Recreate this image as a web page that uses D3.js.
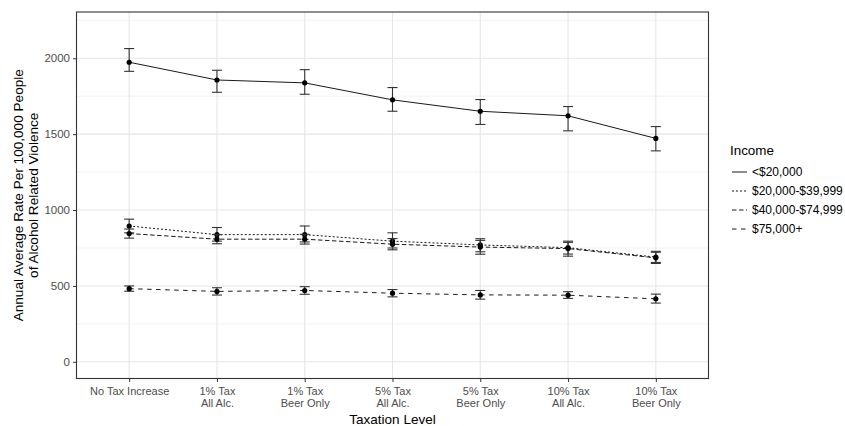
<!DOCTYPE html>
<html>
<head>
<meta charset="utf-8">
<script src="https://cdn.jsdelivr.net/npm/d3@7/dist/d3.min.js"></script>
<style>
  body { margin: 0; background: #fff; }
  svg text { font-family: "Liberation Sans", Arial, sans-serif; }
</style>
</head>
<body>
<div id="chart"></div>
<script>
// tax scenarios on the x axis
var categories = ["No Tax Increase", "1% Tax\nAll Alc.", "1% Tax\nBeer Only", "5% Tax\nAll Alc.",
                  "5% Tax\nBeer Only", "10% Tax\nAll Alc.", "10% Tax\nBeer Only"];

var incomeGroups = ["<$20,000", "$20,000-$39,999", "$40,000-$74,999", "$75,000+"];

// mean rate per 100,000 and error bar bounds, one array per income group
var meanUnder20 = [1974, 1857, 1838, 1726, 1651, 1621, 1472];
var lowUnder20  = [1914, 1776, 1763, 1651, 1564, 1522, 1390];
var highUnder20 = [2064, 1921, 1925, 1807, 1728, 1682, 1550];

var mean20to40 = [895, 838, 838, 795, 770, 752, 690];
var low20to40  = [850, 795, 790, 750, 725, 710, 655];
var high20to40 = [940, 885, 895, 850, 811, 787, 728];

var mean40to75 = [845, 808, 808, 775, 756, 746, 685];
var low40to75  = [815, 778, 776, 738, 709, 696, 648];
var high40to75 = [875, 838, 840, 812, 800, 795, 722];

var mean75plus = [482, 464, 470, 452, 441, 439, 415];
var low75plus  = [465, 440, 445, 428, 413, 418, 387];
var high75plus = [500, 488, 495, 476, 470, 462, 446];

var yTicks = [0, 500, 1000, 1500, 2000];
var yMinor = [250, 750, 1250, 1750, 2250];

var series = [
  { name: incomeGroups[0], mean: meanUnder20, low: lowUnder20, high: highUnder20, dash: null },
  { name: incomeGroups[1], mean: mean20to40, low: low20to40, high: high20to40, dash: "2,2" },
  { name: incomeGroups[2], mean: mean40to75, low: low40to75, high: high40to75, dash: "4.5,2.5" },
  { name: incomeGroups[3], mean: mean75plus, low: low75plus, high: high75plus, dash: "4.5,4.5" }
];

var width = 845, height = 426;
var panel = { left: 76.5, right: 708.5, top: 12, bottom: 378.5 };

var svg = d3.select("#chart").append("svg")
    .attr("width", width)
    .attr("height", height);

var x = d3.scalePoint()
    .domain(categories)
    .range([panel.left, panel.right])
    .padding(0.6);

var y = d3.scaleLinear()
    .domain([-110, 2305])
    .range([panel.bottom, panel.top]);

// grid
var grid = svg.append("g");
grid.selectAll(".minor").data(yMinor).enter().append("line")
    .attr("x1", panel.left).attr("x2", panel.right)
    .attr("y1", function(d){ return y(d); }).attr("y2", function(d){ return y(d); })
    .attr("stroke", "#f0f0f0").attr("stroke-width", 0.8);
grid.selectAll(".major").data(yTicks).enter().append("line")
    .attr("x1", panel.left).attr("x2", panel.right)
    .attr("y1", function(d){ return y(d); }).attr("y2", function(d){ return y(d); })
    .attr("stroke", "#e6e6e6").attr("stroke-width", 1.1);
grid.selectAll(".vmajor").data(categories).enter().append("line")
    .attr("y1", panel.top).attr("y2", panel.bottom)
    .attr("x1", function(d){ return x(d); }).attr("x2", function(d){ return x(d); })
    .attr("stroke", "#e6e6e6").attr("stroke-width", 1.1);

// axes
var yAxis = svg.append("g")
    .attr("transform", "translate(" + panel.left + ",0)")
    .call(d3.axisLeft(y).tickValues(yTicks).tickSize(3.5).tickPadding(3).tickFormat(d3.format("d")));
var xAxis = svg.append("g")
    .attr("transform", "translate(0," + panel.bottom + ")")
    .call(d3.axisBottom(x).tickSize(3.5).tickPadding(4).tickFormat(""));

[yAxis, xAxis].forEach(function(ax){
  ax.select(".domain").remove();
  ax.selectAll(".tick line").attr("stroke", "#333").attr("stroke-width", 1);
  ax.selectAll(".tick text").attr("fill", "#4d4d4d").style("font-size", "11.5px");
});

// two-line tick labels on x
xAxis.selectAll(".tick").each(function(d){
  var t = d3.select(this).append("text")
      .attr("fill", "#4d4d4d")
      .attr("text-anchor", "middle")
      .style("font-size", "11px");
  d.split("\n").forEach(function(line, i){
    t.append("tspan").attr("x", 0).attr("y", 16.7 + i * 12).text(line);
  });
});

// lines, error bars, points
var line = d3.line()
    .x(function(d){ return x(d.cat); })
    .y(function(d){ return y(d.v); });

series.forEach(function(s){
  var pts = categories.map(function(c, i){
    return { cat: c, v: s.mean[i], lo: s.low[i], hi: s.high[i] };
  });
  var g = svg.append("g");
  g.append("path")
      .attr("d", line(pts))
      .attr("fill", "none")
      .attr("stroke", "#1a1a1a")
      .attr("stroke-width", 1)
      .attr("stroke-dasharray", s.dash);
  pts.forEach(function(p){
    var cx = x(p.cat);
    g.append("line").attr("x1", cx).attr("x2", cx).attr("y1", y(p.lo)).attr("y2", y(p.hi))
        .attr("stroke", "#333").attr("stroke-width", 1.1);
    [p.lo, p.hi].forEach(function(v){
      g.append("line").attr("x1", cx - 5).attr("x2", cx + 5).attr("y1", y(v)).attr("y2", y(v))
          .attr("stroke", "#333").attr("stroke-width", 1.1);
    });
    g.append("circle").attr("cx", cx).attr("cy", y(p.v)).attr("r", 2.6).attr("fill", "#000");
  });
});

// panel border
svg.append("rect")
    .attr("x", panel.left).attr("y", panel.top)
    .attr("width", panel.right - panel.left).attr("height", panel.bottom - panel.top)
    .attr("fill", "none").attr("stroke", "#333").attr("stroke-width", 1.1);

// axis titles
svg.append("text")
    .attr("x", (panel.left + panel.right) / 2).attr("y", 423.5)
    .attr("text-anchor", "middle")
    .style("font-size", "13.5px")
    .text("Taxation Level");

var yt = svg.append("text")
    .attr("transform", "translate(0," + ((panel.top + panel.bottom) / 2) + ") rotate(-90)")
    .attr("text-anchor", "middle")
    .style("font-size", "13.6px");
yt.append("tspan").attr("x", 0).attr("y", 22.5).text("Annual Average Rate Per 100,000 People");
yt.append("tspan").attr("x", 0).attr("y", 37.5).text("of Alcohol Related Violence");

// legend
var legend = svg.append("g").attr("transform", "translate(730,0)");
legend.append("text").attr("x", 0).attr("y", 155).style("font-size", "13.4px").text("Income");
series.forEach(function(s, i){
  var cy = 172 + i * 19;
  legend.append("line").attr("x1", 2).attr("x2", 17).attr("y1", cy).attr("y2", cy)
      .attr("stroke", "#1a1a1a").attr("stroke-width", 1)
      .attr("stroke-dasharray", s.dash);
  legend.append("text").attr("x", 22).attr("y", cy + 4.2)
      .style("font-size", "12px").text(s.name);
});
</script>
</body>
</html>
